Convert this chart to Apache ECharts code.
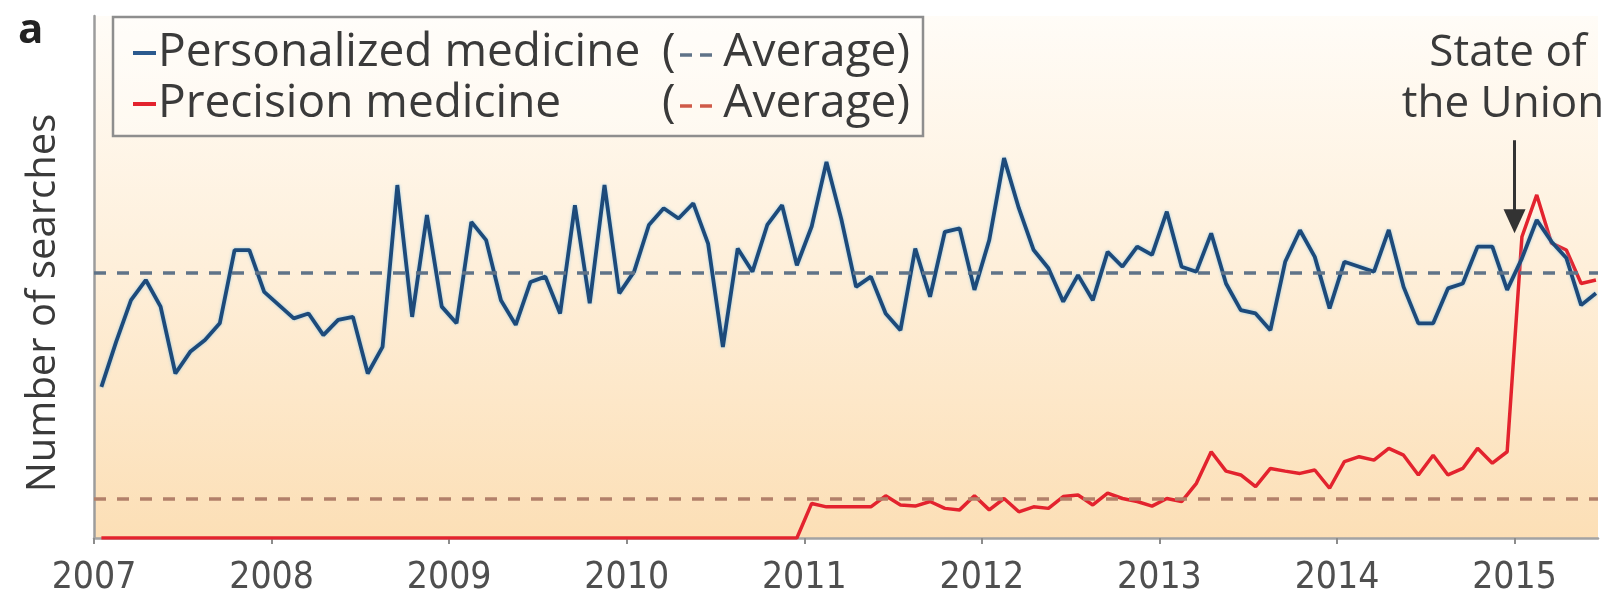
<!DOCTYPE html>
<html><head><meta charset="utf-8">
<script src="https://cdn.jsdelivr.net/npm/echarts@6/dist/echarts.min.js"></script>
<style>html,body{margin:0;padding:0;background:#fff}#c{width:1614px;height:599px}</style>
</head><body><div id="c"></div>
<script>
// Monthly search interest, January 2007 to June 2015
const firstYear = 2007;
const yearTicks = [2007, 2008, 2009, 2010, 2011, 2012, 2013, 2014, 2015];
const personalized = [
  39.8, 51.7, 62.6, 67.9, 60.9, 43.3, 49.0, 52.1, 56.5, 75.8, 75.8, 64.8,
  61.3, 57.8, 59.1, 53.4, 57.4, 58.2, 43.3, 50.3, 92.9, 58.2, 85.0, 60.9,
  56.5, 83.2, 78.4, 62.6, 56.1, 67.4, 68.8, 59.1, 87.6, 61.8, 92.9, 64.4,
  70.1, 82.4, 86.8, 84.1, 88.1, 77.5, 50.3, 76.2, 70.1, 82.4, 87.6, 71.8,
  82.0, 99.0, 84.0, 66.1, 68.8, 59.1, 54.7, 76.2, 63.5, 80.6, 81.5, 65.3,
  78.4, 100.0, 86.8, 75.8, 71.0, 62.2, 69.2, 62.6, 75.3, 71.4, 76.7, 74.5,
  85.9, 71.4, 70.1, 80.2, 67.0, 60.0, 59.1, 54.7, 72.7, 81.0, 74.0, 60.4,
  72.7, 71.4, 70.1, 81.1, 66.1, 56.5, 56.5, 65.7, 67.0, 76.7, 76.7, 65.3,
  73.6, 83.7, 78.0, 73.7, 61.3, 64.4
];
const precision = [
  0, 0, 0, 0, 0, 0, 0, 0, 0, 0, 0, 0,
  0, 0, 0, 0, 0, 0, 0, 0, 0, 0, 0, 0,
  0, 0, 0, 0, 0, 0, 0, 0, 0, 0, 0, 0,
  0, 0, 0, 0, 0, 0, 0, 0, 0, 0, 0, 0,
  9.1, 8.2, 8.2, 8.2, 8.2, 11.1, 8.7, 8.4, 9.6, 7.8, 7.4, 11.1,
  7.4, 10.4, 6.9, 8.2, 7.8, 10.9, 11.3, 8.7, 11.8, 10.4, 9.6, 8.4,
  10.4, 9.6, 14.4, 22.7, 17.6, 16.6, 13.5, 18.3, 17.6, 17.0, 17.9, 13.1,
  20.1, 21.4, 20.5, 23.6, 21.8, 16.6, 21.8, 16.6, 18.3, 23.6, 19.7, 22.7,
  79.3, 90.3, 77.6, 75.8, 67.0, 67.9
];
const personalizedAverage = 69.8;
const precisionAverage = 10.4;
const eventYear = 2015;          // State of the Union, January 2015
const arrowFrom = 104.7, arrowTo = 83.4;

const toPoints = arr => arr.map((v, i) => [firstYear + (i + 0.5) / 12, v]);

const TXT = "'Open Sans', 'DejaVu Sans', sans-serif";
const NARROW = "'Liberation Sans Narrow', 'DejaVu Sans Condensed', 'Open Sans', sans-serif";
const textCol = '#3a3a3a';
const BLUE = '#1d4a7a', RED = '#e3232e';
const BLUE_AVG = '#5f7388', RED_AVG = '#b2806a';

const legendText = (x, y, text, align) => ({
  type: 'text', x: x, y: y, z: 11,
  style: {text: text, fontFamily: TXT, fontSize: 46, fill: textCol, align: align || 'left', verticalAlign: 'middle'}
});
const legendLine = (x1, x2, y, color, w) => ({
  type: 'line', z: 11, shape: {x1: x1, y1: y, x2: x2, y2: y},
  style: {stroke: color, lineWidth: w || 3.5}
});

const chart = echarts.init(document.getElementById('c'), null, {renderer: 'canvas'});
chart.setOption({
  animation: false,
  backgroundColor: '#ffffff',
  grid: {
    left: 94, right: 16, top: 16, bottom: 61, show: true, borderWidth: 0,
    backgroundColor: {
      type: 'linear', x: 0, y: 0, x2: 0, y2: 1,
      colorStops: [
        {offset: 0, color: '#fffcf7'},
        {offset: 0.45, color: '#fef0dc'},
        {offset: 1, color: '#fcdfb6'}
      ]
    }
  },
  xAxis: {
    type: 'value', min: 2007, max: 2015.47, interval: 1,
    splitLine: {show: false},
    axisLine: {show: true, onZero: false, lineStyle: {color: '#a3a3a3', width: 2.5}},
    axisTick: {show: true, length: 6, inside: false, customValues: yearTicks,
      lineStyle: {color: '#8c8c8c', width: 2}},
    axisLabel: {customValues: yearTicks, formatter: v => String(Math.round(v)),
      fontFamily: NARROW, fontSize: 37, color: '#4f4f4f', margin: 22}
  },
  yAxis: {
    type: 'value', min: 0, max: 137.4,
    splitLine: {show: false},
    axisLine: {show: true, lineStyle: {color: '#9c9c9c', width: 2.5}},
    axisTick: {show: false},
    axisLabel: {show: false}
  },
  series: [
    {
      name: 'Precision medicine', type: 'line', data: toPoints(precision),
      symbol: 'none', z: 2,
      lineStyle: {color: RED, width: 3.5},
      markLine: {
        silent: true, symbol: 'none', label: {show: false},
        lineStyle: {type: [12, 11], color: RED_AVG, width: 3.5},
        data: [{yAxis: precisionAverage}]
      }
    },
    {
      name: 'Personalized medicine', type: 'line', data: toPoints(personalized),
      symbol: 'none', z: 3,
      lineStyle: {color: BLUE, width: 3.8, shadowColor: 'rgba(110,190,235,0.7)', shadowBlur: 3},
      markLine: {
        silent: true, symbol: 'none', label: {show: false},
        lineStyle: {type: [12, 11], color: BLUE_AVG, width: 3.5},
        data: [
          {yAxis: personalizedAverage},
          [
            {coord: [eventYear, arrowFrom], symbol: 'none',
              lineStyle: {type: 'solid', color: '#333333', width: 3}},
            {coord: [eventYear, arrowTo], symbol: 'triangle', symbolSize: [22, 24]}
          ]
        ]
      }
    }
  ],
  graphic: [
    {type: 'text', left: 18, top: 10, style: {text: 'a', fontFamily: TXT, fontWeight: 'bold', fontSize: 42, fill: '#222'}},
    {type: 'text', x: 44, y: 303, rotation: Math.PI / 2,
      style: {text: 'Number of searches', fontFamily: TXT, fontSize: 40, fill: textCol, align: 'center', verticalAlign: 'middle'}},
    {type: 'rect', z: 10, shape: {x: 113, y: 17, width: 810, height: 119},
      style: {fill: 'rgba(255,255,255,0.35)', stroke: '#8e8e8e', lineWidth: 2.5}},
    legendLine(133, 156, 53, '#2b5a8e', 4),
    legendText(158, 53, 'Personalized medicine'),
    legendText(662, 53, '('),
    legendLine(680, 692, 55, BLUE_AVG),
    legendLine(700, 712, 55, BLUE_AVG),
    legendText(910, 53, 'Average)', 'right'),
    legendLine(133, 156, 104, RED, 4),
    legendText(158, 104, 'Precision medicine'),
    legendText(662, 104, '('),
    legendLine(680, 692, 106, '#cf5a48'),
    legendLine(700, 712, 106, '#cf5a48'),
    legendText(910, 104, 'Average)', 'right'),
    {type: 'text', x: 1508, y: 53, style: {text: 'State of', fontFamily: TXT, fontSize: 44, fill: textCol, align: 'center', verticalAlign: 'middle'}},
    {type: 'text', x: 1503, y: 104, style: {text: 'the Union', fontFamily: TXT, fontSize: 44, fill: textCol, align: 'center', verticalAlign: 'middle'}}
  ]
});
</script>
</body></html>
